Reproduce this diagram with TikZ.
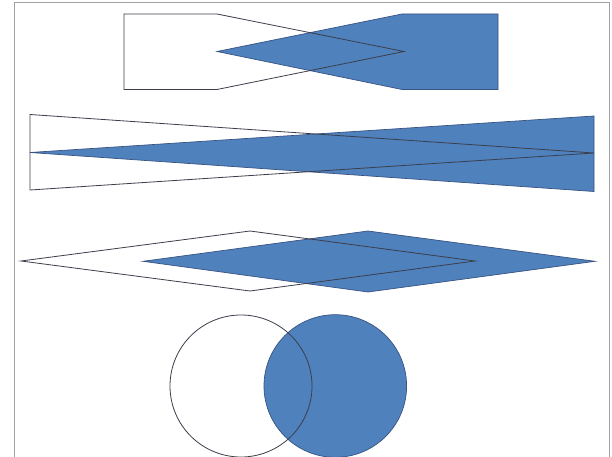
\documentclass[tikz,border=0pt]{standalone}
\begin{document}
\begin{tikzpicture}[x=1bp,y=-1bp,
  bluefill/.style={fill={rgb,255:red,79;green,129;blue,189},draw={rgb,255:red,56;green,82;blue,130},line width=0.7bp,line join=miter},
  outline/.style={draw={rgb,255:red,60;green,62;blue,75},line width=0.8bp,line join=miter},
  frameline/.style={draw={rgb,255:red,160;green,160;blue,160},line width=1bp}]
\useasboundingbox (0,0) rectangle (612,457);
\fill[white] (0,0) rectangle (612,457);
\begin{scope}
\clip (0,0) rectangle (612,457);
\draw[frameline] (14.5,470) -- (14.5,2.5) -- (609.5,2.5) -- (609.5,470);
% row 1
\path[bluefill] (217,51.5) -- (402,14) -- (498,14) -- (498,89.5) -- (402,89.5) -- cycle;
\path[outline] (124,14) -- (217,14) -- (404,51.5) -- (217,89.5) -- (124,89.5) -- cycle;
% row 2
\path[bluefill] (30,152.5) -- (594,116) -- (594,191.5) -- cycle;
\path[outline] (30,114.5) -- (594,153) -- (30,190) -- cycle;
% row 3
\path[bluefill] (143,261.3) -- (368,231) -- (595,261.3) -- (368,292) -- cycle;
\path[outline] (21,261) -- (250,231) -- (475,261) -- (250,291) -- cycle;
% circles
\path[bluefill] (335.3,386) circle (71.3);
\path[outline] (241,386) circle (71);
\end{scope}
\end{tikzpicture}
\end{document}
